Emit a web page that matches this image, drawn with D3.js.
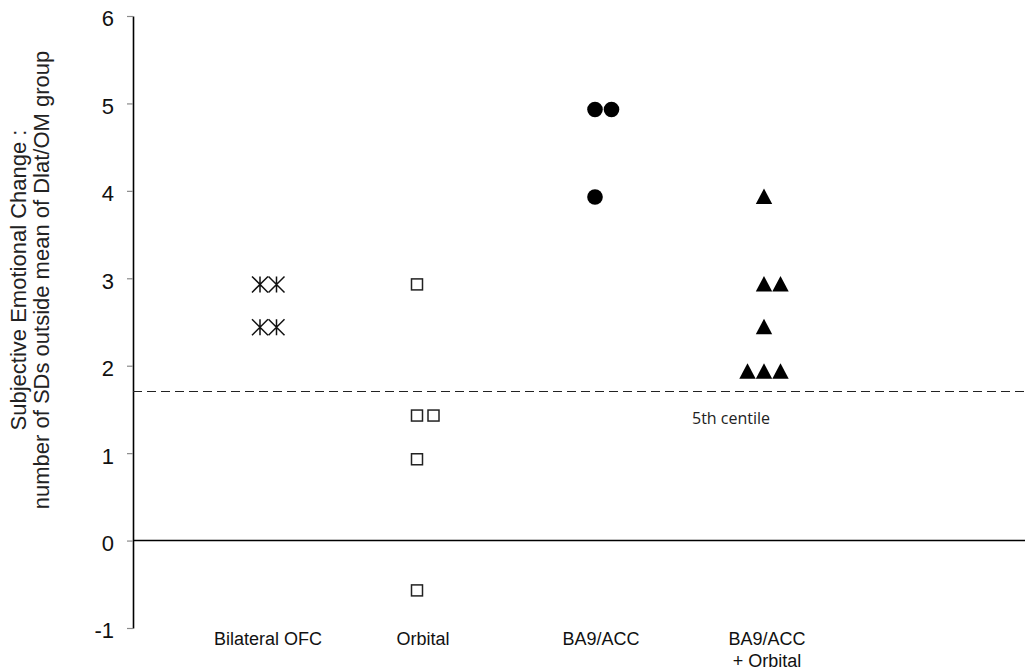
<!DOCTYPE html>
<html>
<head>
<meta charset="utf-8">
<script src="https://cdn.jsdelivr.net/npm/d3@7/dist/d3.min.js"></script>
<style>
  html, body { margin: 0; padding: 0; background: #fff; }
  svg { display: block; }
</style>
</head>
<body>
<svg id="chart" width="1025" height="671"></svg>
<script>
// ---------------- DATA ----------------
const categories = ["Bilateral OFC", "Orbital", "BA9/ACC", "BA9/ACC + Orbital"];
const categoryLabels = [["Bilateral OFC"], ["Orbital"], ["BA9/ACC"], ["BA9/ACC", "+ Orbital"]];
const markerTypes = ["asterisk", "square", "circle", "triangle"];

const bilateralOFC = [2.93, 2.93, 2.44, 2.44];
const orbital = [2.93, 1.43, 1.43, 0.93, -0.57];
const ba9acc = [4.93, 4.93, 3.93];
const ba9accOrbital = [3.93, 2.93, 2.93, 2.44, 1.93, 1.93, 1.93];
const seriesValues = [bilateralOFC, orbital, ba9acc, ba9accOrbital];

const yTicks = [-1, 0, 1, 2, 3, 4, 5, 6];
const yTickLabels = ["-1", "0", "1", "2", "3", "4", "5", "6"];
const centileValue = 1.71;
const centileLabel = "5th centile";
const yTitleLines = ["Subjective Emotional Change :", "number of SDs outside mean of Dlat/OM group"];

// ---------------- LAYOUT ----------------
const W = 1025, H = 671;
const axisX = 133;
const categoryRange = [260, 417, 595, 764];   // column-0 centre of each group
const labelShift = [8, 6, 6, 3];
const markerStep = 16.5;

const svg = d3.select("#chart");
svg.append("rect").attr("width", W).attr("height", H).attr("fill", "#fff");

const y = d3.scaleLinear().domain([-1, 6]).range([628, 16]);
const x = d3.scaleOrdinal().domain(categories).range(categoryRange);

// axis
const yAxis = d3.axisLeft(y).tickValues(yTicks).tickSize(6).tickSizeOuter(0).tickPadding(13)
  .tickFormat(d => yTickLabels[yTicks.indexOf(d)]);
const gAxis = svg.append("g").attr("transform", `translate(${axisX},0)`).call(yAxis);
gAxis.select(".domain").attr("stroke", "#000").attr("stroke-width", 1.6);
gAxis.selectAll(".tick line").attr("stroke", "#8a8a8a").attr("stroke-width", 1.2);
gAxis.selectAll(".tick text")
  .attr("font-family", "'Liberation Sans', Arial, sans-serif")
  .attr("font-size", 22).attr("fill", "#111").attr("dy", "0.45em");

// zero line
svg.append("line").attr("x1", axisX).attr("x2", W).attr("y1", y(0)).attr("y2", y(0))
  .attr("stroke", "#000").attr("stroke-width", 1.5);

// dashed centile line
const yc = Math.round(y(centileValue)) + 0.5;
svg.append("line").attr("x1", axisX).attr("x2", W)
  .attr("y1", yc).attr("y2", yc)
  .attr("stroke", "#222").attr("stroke-width", 1.2).attr("stroke-dasharray", "9,5");
svg.append("text").attr("x", 692).attr("y", y(centileValue) + 33)
  .attr("font-family", "'Open Sans', 'Noto Sans', sans-serif").attr("font-size", 16)
  .attr("fill", "#222").text(centileLabel);

// y title
const title = svg.append("text")
  .attr("transform", `translate(0,280) rotate(-90)`)
  .attr("text-anchor", "middle")
  .attr("font-family", "'Liberation Sans', Arial, sans-serif")
  .attr("font-size", 22).attr("fill", "#222");
title.selectAll("tspan").data(yTitleLines).join("tspan")
  .attr("x", 0).attr("y", (d, i) => 26 + i * 23).text(d => d);

// category labels
categories.forEach((c, ci) => {
  const t = svg.append("text").attr("text-anchor", "middle")
    .attr("font-family", "'Liberation Sans', Arial, sans-serif")
    .attr("font-size", 18).attr("fill", "#111");
  t.selectAll("tspan").data(categoryLabels[ci]).join("tspan")
    .attr("x", x(c) + labelShift[ci]).attr("y", (d, i) => 645 + i * 22).text(d => d);
});

// points: duplicates of the same value placed side by side
const points = [];
categories.forEach((c, ci) => {
  const groups = d3.group(seriesValues[ci], v => v);
  groups.forEach((vals, v) => {
    const n = vals.length;
    const start = -Math.floor((n - 1) / 2);
    vals.forEach((_, k) => points.push({ cat: c, type: markerTypes[ci], value: v, col: start + k }));
  });
});

const gPts = svg.append("g");
points.forEach(p => {
  const cx = x(p.cat) + p.col * markerStep;
  const cy = y(p.value);
  const g = gPts.append("g").attr("transform", `translate(${cx},${cy})`);
  if (p.type === "asterisk") {
    const r = 8;
    g.append("path").attr("d", `M0,${-r}V${r}M${-r},${-r}L${r},${r}M${-r},${r}L${r},${-r}`)
      .attr("stroke", "#111").attr("stroke-width", 1.5).attr("fill", "none");
  } else if (p.type === "square") {
    g.append("rect").attr("x", -5.5).attr("y", -5.5).attr("width", 11).attr("height", 11)
      .attr("fill", "#fff").attr("stroke", "#222").attr("stroke-width", 1.5);
  } else if (p.type === "circle") {
    g.append("circle").attr("r", 7.8).attr("fill", "#000");
  } else {
    g.append("path").attr("d", "M0,-8.5L8.2,7L-8.2,7Z").attr("fill", "#000");
  }
});
</script>
</body>
</html>
